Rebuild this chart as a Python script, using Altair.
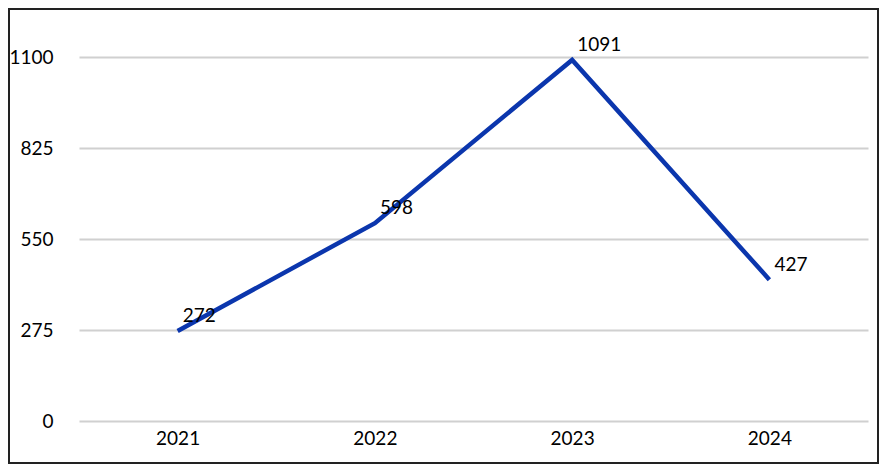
import altair as alt
import pandas as pd

years = ["2021", "2022", "2023", "2024"]
values = [272, 598, 1091, 427]
y_ticks = [0, 275, 550, 825, 1100]

df = pd.DataFrame({"year": years, "value": values})

W, H = 789, 364
PL, PT, PR, PB = 71, 49, 11, 43
FONT = "Lato"
FS = 19

x = alt.X("year:N", sort=years, title=None,
          scale=alt.Scale(paddingInner=0, paddingOuter=0.5),
          axis=alt.Axis(labelAngle=0, ticks=False, domain=False, grid=False, labelPadding=8,
                        labelFontSize=FS, labelColor="#000000", labelFont=FONT))
y = alt.Y("value:Q", title=None,
          scale=alt.Scale(domain=[0, 1100], nice=False),
          axis=alt.Axis(values=y_ticks, format="d", ticks=False, domain=False, labelPadding=26,
                        labelFontSize=FS, labelColor="#000000", labelFont=FONT,
                        gridColor="#d0d0d0", gridWidth=2))

base = alt.Chart(df)
line = base.mark_line(color="#0b36ad", strokeWidth=4.5, strokeJoin="miter").encode(x=x, y=y)
text = base.mark_text(align="left", baseline="middle", dx=5, dy=-15, fontSize=FS,
                      font=FONT, color="#000000").encode(
    x=alt.X("year:N", sort=years), y="value:Q", text="value:Q")

frame = alt.Chart(pd.DataFrame({"a": [0]})).mark_rect(
    fill=None, stroke="#222222", strokeWidth=2).encode(
    x=alt.value(-PL + 1), x2=alt.value(W + PR - 1),
    y=alt.value(-PT + 1), y2=alt.value(H + PB - 1))

chart = alt.layer(line, text, frame).properties(
    width=W, height=H,
    autosize=alt.AutoSizeParams(type="none"),
    padding={"left": PL, "top": PT, "right": PR, "bottom": PB},
).configure(background="white").configure_view(stroke=None)

chart.save("out.html", embed_options={"renderer": "svg", "actions": False})
